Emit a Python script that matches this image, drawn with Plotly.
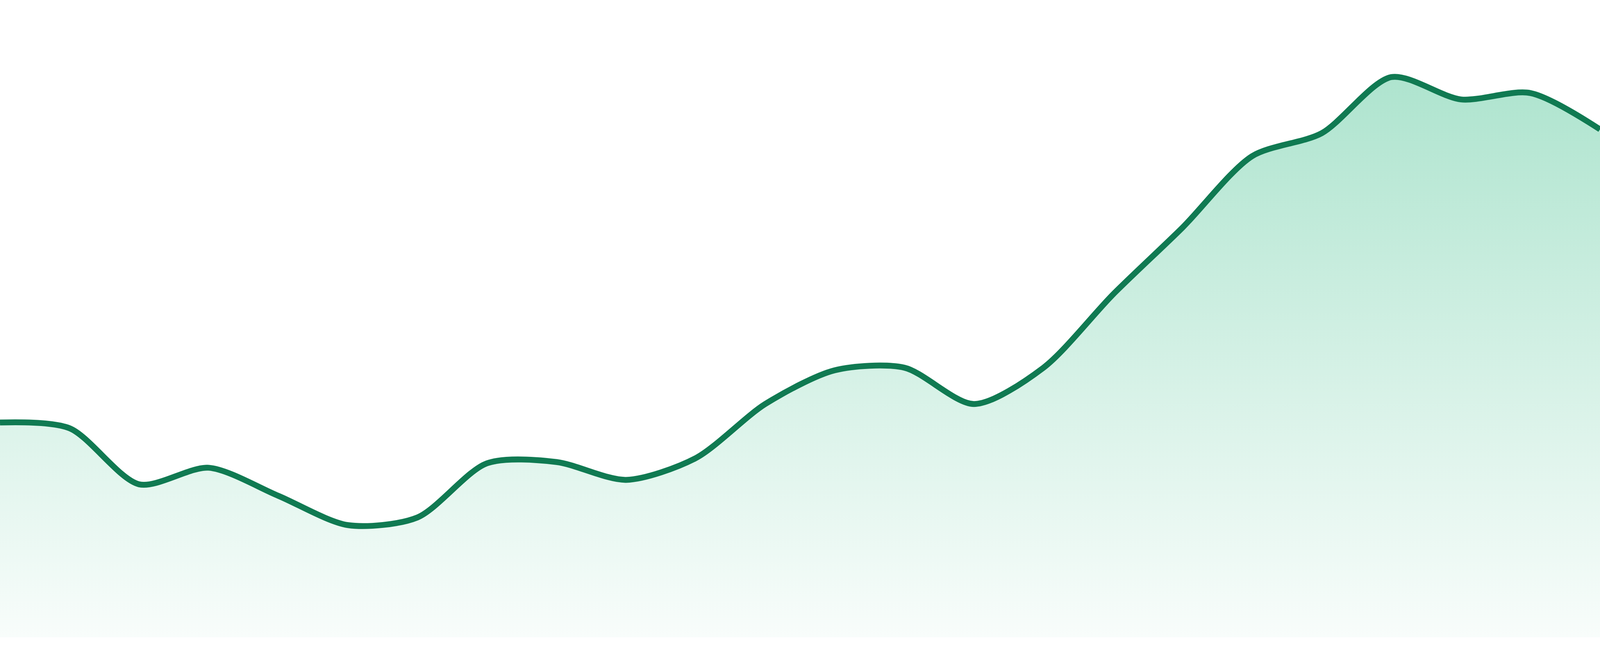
import plotly.graph_objects as go

# 24 evenly spaced samples
steps = list(range(24))
values = [33.7, 32.8, 24.0, 26.6, 22.2, 17.6, 18.8, 27.3, 27.5, 24.7, 28.1, 36.6,
          41.9, 42.3, 36.6, 42.3, 53.8, 64.3, 75.5, 79.1, 87.9, 84.4, 85.4, 79.7]

LINE = '#107a52'

fig = go.Figure()
fig.add_trace(go.Scatter(
    x=steps, y=values,
    mode='lines',
    # a little less smoothing so the flat stretches don't bulge
    line=dict(color=LINE, width=15, shape='spline', smoothing=0.8),
    fill='tozeroy',
    fillgradient=dict(type='vertical',
                      colorscale=[[0, 'rgba(30,180,120,0.03)'],
                                  [1, 'rgba(30,180,120,0.36)']]),
    hoverinfo='skip',
    showlegend=False,
))

fig.update_xaxes(visible=False, range=[0, 23])
fig.update_yaxes(visible=False, range=[0, 100])
fig.update_layout(
    paper_bgcolor='white', plot_bgcolor='white',
    margin=dict(l=0, r=0, t=0, b=48),
)

# page body has a default margin, drop it and let the chart refill the window
fig.write_html("out.html", config={'displayModeBar': False},
               post_script="document.body.style.margin='0';"
                           "Plotly.Plots.resize(document.getElementById('{plot_id}'));")
